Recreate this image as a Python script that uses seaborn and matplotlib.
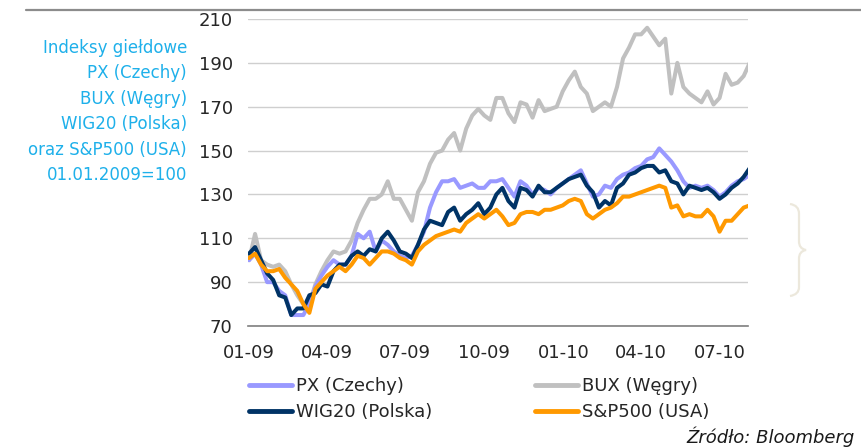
import matplotlib
matplotlib.use('Agg')
import matplotlib.pyplot as plt
import matplotlib.dates as mdates
from matplotlib.lines import Line2D
from matplotlib.path import Path
from matplotlib.patches import PathPatch
import pandas as pd
import seaborn as sns

# Weekly readings, 01.01.2009 = 100
dates = pd.date_range('2009-01-01', periods=84, freq='7D')

px_cz = [100, 103, 98, 90, 90, 86, 84, 75, 75, 75,
         80, 88, 93, 97, 100, 98, 98, 102, 112, 110,
         113, 104, 109, 107, 104, 102, 101, 102, 107, 113,
         124, 131, 136, 136, 137, 133, 134, 135, 133, 133,
         136, 136, 137, 133, 129, 136, 134, 130, 133, 132,
         130, 133, 135, 137, 139, 141, 135, 129, 130, 134,
         133, 137, 139, 140, 142, 143, 146, 147, 151, 148,
         145, 141, 136, 133, 134, 133, 134, 132, 129, 131,
         134, 136, 137, 139]

bux_hu = [100, 112, 100, 98, 97, 98, 95, 89, 84, 80,
          80, 89, 95, 100, 104, 103, 104, 109, 117, 123,
          128, 128, 130, 136, 128, 128, 123, 118, 131, 136,
          144, 149, 150, 155, 158, 150, 160, 166, 169, 166,
          164, 174, 174, 167, 163, 172, 171, 165, 173, 168,
          169, 170, 177, 182, 186, 179, 176, 168, 170, 172,
          170, 179, 192, 197, 203, 203, 206, 202, 198, 201,
          176, 190, 179, 176, 174, 172, 177, 171, 174, 185,
          180, 181, 184, 190]

wig20_pl = [103, 106, 100, 94, 91, 84, 83, 75, 78, 78,
            84, 85, 89, 88, 95, 98, 98, 102, 104, 102,
            105, 104, 110, 113, 109, 104, 103, 101, 107, 114,
            118, 117, 116, 122, 124, 118, 121, 123, 126, 121,
            124, 130, 133, 127, 124, 133, 132, 129, 134, 131,
            131, 133, 135, 137, 138, 139, 134, 131, 124, 127,
            125, 133, 135, 139, 140, 142, 143, 143, 140, 141,
            136, 135, 130, 134, 133, 132, 133, 131, 128, 130,
            133, 135, 138, 142]

sp500_us = [101, 103, 98, 95, 95, 96, 92, 89, 86, 80,
            76, 87, 90, 93, 95, 97, 95, 98, 102, 101,
            98, 101, 104, 104, 103, 101, 100, 98, 104, 107,
            109, 111, 112, 113, 114, 113, 117, 119, 121, 119,
            121, 123, 120, 116, 117, 121, 122, 122, 121, 123,
            123, 124, 125, 127, 128, 127, 121, 119, 121, 123,
            124, 126, 129, 129, 130, 131, 132, 133, 134, 133,
            124, 125, 120, 121, 120, 120, 123, 120, 113, 118,
            118, 121, 124, 125]

series_names = ['PX (Czechy)', 'BUX (Węgry)', 'WIG20 (Polska)', 'S&P500 (USA)']
series_colors = ['#9999FF', '#C0C0C0', '#003366', '#FF9900']
tick_dates = ['2009-01-01', '2009-04-01', '2009-07-01', '2009-10-01',
              '2010-01-01', '2010-04-01', '2010-07-01']
side_lines = ['Indeksy giełdowe', 'PX (Czechy)', 'BUX (Węgry)',
              'WIG20 (Polska)', 'oraz S&P500 (USA)', '01.01.2009=100']

df = pd.DataFrame({'date': dates, series_names[0]: px_cz, series_names[1]: bux_hu,
                   series_names[2]: wig20_pl, series_names[3]: sp500_us})

sns.set_style('white')
plt.rcParams['font.family'] = ['DejaVu Sans']

W, H = 861, 447
fig = plt.figure(figsize=(W / 100, H / 100), dpi=100)


def fx(x):
    return x / W


def fy(y):
    return 1 - y / H


ax = fig.add_axes([fx(248), fy(326), fx(748) - fx(248), fy(19) - fy(326)])

# gray first, then purple, navy, orange on top
for i in [1, 0, 2, 3]:
    sns.lineplot(data=df, x='date', y=series_names[i], color=series_colors[i],
                 lw=2.9, ax=ax, legend=False)

start = pd.Timestamp('2009-01-01')
ax.set_xlim(start - pd.Timedelta(days=1.2), start + pd.Timedelta(days=579))
ax.set_ylim(70, 210)
ax.set_yticks(range(70, 211, 20))
ax.set_xticks(pd.to_datetime(tick_dates))
ax.xaxis.set_major_formatter(mdates.DateFormatter('%m-%y'))
ax.set_xlabel('')
ax.set_ylabel('')
ax.yaxis.grid(True, color='#cfcfcf', lw=1)
ax.set_axisbelow(True)
for s in ['top', 'right', 'left']:
    ax.spines[s].set_visible(False)
ax.spines['bottom'].set_color('#7f7f7f')
ax.spines['bottom'].set_linewidth(1.2)
ax.tick_params(axis='x', direction='out', length=5, width=1, color='#7f7f7f',
               labelsize=13, pad=8)
ax.tick_params(axis='y', length=0, labelsize=13, pad=11)

# legend below
handles = [Line2D([], [], color=series_colors[i], lw=3.5) for i in [0, 2, 1, 3]]
labels = [series_names[i] for i in [0, 2, 1, 3]]
fig.legend(handles, labels, ncol=2, frameon=False, fontsize=13,
           loc='upper left', bbox_to_anchor=(fx(249), fy(377)),
           borderpad=0, borderaxespad=0, handlelength=2.4, handletextpad=0.2,
           labelspacing=0.45, columnspacing=5.7)

# description on the left
for i, line in enumerate(side_lines):
    fig.text(fx(187), fy(48 + i * 25.4), line, ha='right', va='center',
             fontsize=12, color='#1EB0EA')

# top rule
fig.add_artist(Line2D([fx(26), 1], [fy(10), fy(10)], color='#8c8c8c', lw=1.6))

# brace on the right
pts = [(790, 204), (796, 205), (799, 208), (799, 214), (799, 241),
       (799, 246), (801, 249), (806, 250), (801, 251), (799, 254), (799, 259),
       (799, 287), (799, 292), (796, 295), (790, 296)]
codes = [Path.MOVETO, Path.CURVE4, Path.CURVE4, Path.CURVE4, Path.LINETO,
         Path.CURVE4, Path.CURVE4, Path.CURVE4, Path.CURVE4, Path.CURVE4, Path.CURVE4,
         Path.LINETO, Path.CURVE4, Path.CURVE4, Path.CURVE4]
brace = Path([(fx(x), fy(y)) for x, y in pts], codes)
fig.add_artist(PathPatch(brace, transform=fig.transFigure, fill=False,
                         edgecolor='#ECE8DC', lw=1.6))

fig.text(fx(855), fy(437), 'Źródło: Bloomberg', ha='right', va='center',
         fontsize=13, style='italic', color='#1a1a1a')

fig.savefig('out.png', dpi=100)
